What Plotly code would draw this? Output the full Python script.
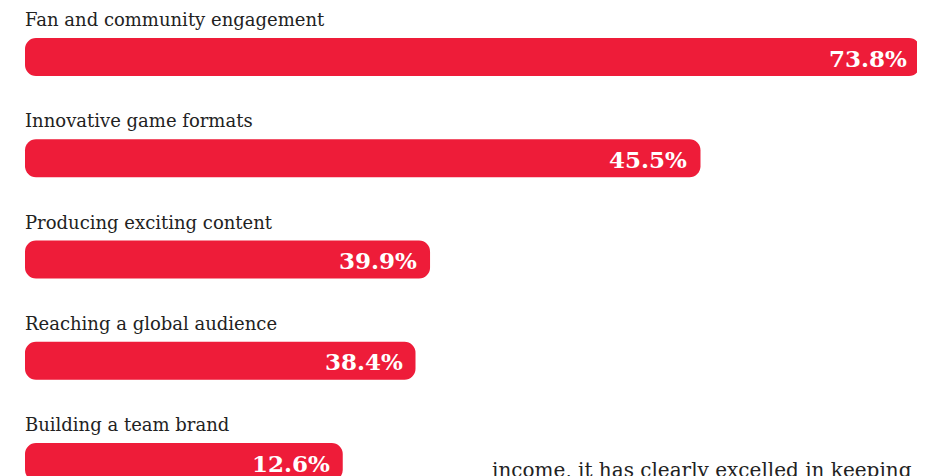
import plotly.graph_objects as go

categories = ["Fan and community engagement", "Innovative game formats",
              "Producing exciting content", "Reaching a global audience",
              "Building a team brand"]
value_labels = ["73.8%", "45.5%", "39.9%", "38.4%", "12.6%"]
# bar lengths as drawn in the picture (axis units, 0 at bar start)
bar_lengths = [73.8, 55.7, 33.4, 32.2, 26.2]
footer_text = "income, it has clearly excelled in keeping"

RED = "#EE1C39"
W, H = 917, 468          # page body has an 8px margin
px_per_unit = 895 / 73.8
x0 = -17 / px_per_unit
x1 = (W - 17) / px_per_unit
row = 101.25
ylo = -49 / row
yhi = (H - 49) / row

ys = list(range(len(categories)))
fig = go.Figure()
# an explicit base makes plotly round both ends of each bar
fig.add_trace(go.Bar(x=bar_lengths, base=[0] * len(bar_lengths), y=ys, orientation="h",
                     marker_color=RED, marker_line_width=0, width=0.375, hoverinfo="skip"))

for i, (c, v, lab) in enumerate(zip(categories, bar_lengths, value_labels)):
    fig.add_annotation(x=0, y=i - 0.37, text=c, showarrow=False, xanchor="left",
                       yanchor="middle", xshift=-2,
                       font=dict(family="DejaVu Serif", size=18, color="#222"))
    fig.add_annotation(x=v, y=i, text="<b>" + lab + "</b>", showarrow=False, xanchor="right",
                       yanchor="middle", xshift=-11, yshift=-1,
                       font=dict(family="DejaVu Serif", size=23, color="white"))

fig.add_annotation(x=1, y=0, xref="paper", yref="paper", yanchor="middle", xanchor="right",
                   xshift=-11, yshift=6, text=footer_text, showarrow=False,
                   font=dict(family="DejaVu Serif", size=20, color="#222"))

fig.update_layout(width=W, height=H, margin=dict(l=0, r=0, t=0, b=0),
                  plot_bgcolor="white", paper_bgcolor="white", showlegend=False,
                  barcornerradius=11,
                  xaxis=dict(range=[x0, x1], visible=False, fixedrange=True),
                  yaxis=dict(range=[yhi, ylo], visible=False, fixedrange=True))
fig.write_html("out.html")
